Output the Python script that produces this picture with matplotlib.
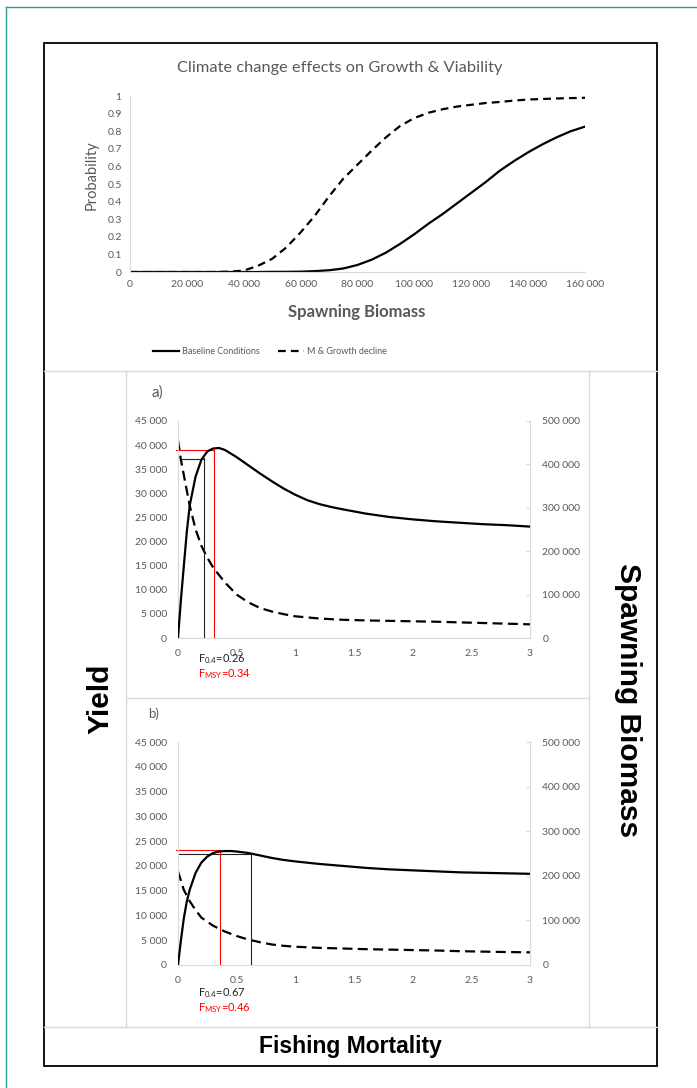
import matplotlib
matplotlib.use("Agg")
import matplotlib.pyplot as plt
from matplotlib.lines import Line2D

W, H = 697, 1088

# --- top chart: probability vs spawning biomass ---
biomass = [0, 5000, 10000, 15000, 20000, 25000, 30000, 35000, 40000, 45000, 50000,
           55000, 60000, 65000, 70000, 75000, 80000, 85000, 90000, 95000, 100000,
           105000, 110000, 115000, 120000, 125000, 130000, 135000, 140000, 145000,
           150000, 155000, 160000]
prob_base = [0, 0, 0, 0, 0, 0, 0, 0, 0, 0, 0.001,
             0.001, 0.002, 0.005, 0.01, 0.02, 0.04, 0.07, 0.11, 0.16, 0.215,
             0.275, 0.33, 0.39, 0.45, 0.51, 0.575, 0.63, 0.68, 0.725,
             0.765, 0.8, 0.826]
prob_decl = [0, 0, 0, 0, 0, 0, 0, 0.002, 0.008, 0.035, 0.075,
             0.14, 0.225, 0.32, 0.43, 0.53, 0.61, 0.69, 0.765, 0.83, 0.875,
             0.905, 0.925, 0.94, 0.95, 0.96, 0.966, 0.974, 0.98, 0.983,
             0.986, 0.988, 0.99]

# --- panel a ---
fa_y = [0, 0.025, 0.05, 0.075, 0.1, 0.15, 0.2, 0.25, 0.3, 0.35, 0.4, 0.5, 0.6, 0.7,
        0.8, 0.9, 1.0, 1.1, 1.2, 1.3, 1.4, 1.6, 1.8, 2.0, 2.2, 2.4, 2.6, 2.8, 3.0]
yield_a = [0, 8000, 15000, 22000, 27500, 33500, 37000, 38700, 39300, 39400, 39000,
           37500, 35800, 34100, 32500, 31000, 29700, 28600, 27800, 27200, 26700,
           25800, 25100, 24600, 24200, 23900, 23600, 23400, 23100]
fa_b = [0, 0.025, 0.05, 0.1, 0.15, 0.2, 0.25, 0.3, 0.4, 0.5, 0.6, 0.7, 0.8, 0.9, 1.0,
        1.2, 1.4, 1.6, 1.8, 2.0, 2.2, 2.4, 2.6, 2.8, 3.0]
ssb_a = [455000, 410000, 375000, 305000, 250000, 212000, 185000, 162000, 128000,
         100000, 82000, 69000, 61000, 55000, 50000, 45000, 42000, 40500, 39500,
         38500, 37500, 36000, 34500, 33000, 31500]
f04_a, fmsy_a = 0.22, 0.31
y04_a, ymsy_a = 37100, 38900

# --- panel b ---
fb_y = [0, 0.025, 0.05, 0.075, 0.1, 0.15, 0.2, 0.25, 0.3, 0.35, 0.4, 0.45, 0.5, 0.6,
        0.7, 0.8, 0.9, 1.0, 1.2, 1.4, 1.6, 1.8, 2.0, 2.2, 2.4, 2.6, 2.8, 3.0]
yield_b = [0, 5000, 9500, 12800, 15200, 18600, 20700, 21900, 22600, 22900, 23000,
           23000, 22900, 22600, 22100, 21600, 21200, 20900, 20400, 20000, 19600,
           19300, 19100, 18900, 18700, 18600, 18500, 18400]
fb_b = [0, 0.05, 0.1, 0.15, 0.2, 0.3, 0.4, 0.5, 0.6, 0.7, 0.8, 0.9, 1.0, 1.2, 1.4,
        1.6, 1.8, 2.0, 2.2, 2.4, 2.6, 2.8, 3.0]
ssb_b = [210000, 168000, 143000, 123000, 106000, 88000, 75000, 65000, 57000, 51000,
         46000, 43000, 41000, 38500, 37000, 35500, 34500, 33500, 32500, 31000, 30000,
         29000, 28400]
f04_b, fmsy_b = 0.62, 0.36
y04_b, ymsy_b = 22400, 23200

f_ticks = [0, 0.5, 1, 1.5, 2, 2.5, 3]
yield_ticks = list(range(0, 45001, 5000))
ssb_ticks = list(range(0, 500001, 100000))

GRAY_TXT = "#595959"
SPINE = "#d9d9d9"
plt.rcParams['font.family'] = ['Lato', 'DejaVu Sans']


def thou(v):
    return f"{int(v):,}".replace(",", " ")


def rect(l, t, r, b):
    return [l / W, 1 - b / H, (r - l) / W, (b - t) / H]


def fline(x0, y0, x1, y1, color, lw):
    fig.add_artist(Line2D([x0 / W, x1 / W], [1 - y0 / H, 1 - y1 / H],
                          transform=fig.transFigure, color=color, lw=lw))


def ftext(x, y, s, **kw):
    fig.text(x / W, 1 - y / H, s, **kw)


fig = plt.figure(figsize=(W / 100, H / 100), dpi=100)

# frames
fline(6, 7, 697, 7, "#2e9b8f", 1.0)
fline(6, 7, 6, 1088, "#2e9b8f", 1.0)
fline(44, 371, 657, 371, SPINE, 1.0)
fline(126, 371, 126, 1027, SPINE, 1.0)
fline(589, 371, 589, 1027, SPINE, 1.0)
fline(126, 698, 589, 698, SPINE, 1.0)
fline(44, 1027, 657, 1027, SPINE, 1.0)
fig.add_artist(plt.Rectangle((44 / W, 1 - 1066 / H), 613 / W, 1023 / H,
                             transform=fig.transFigure, fill=False,
                             ec="black", lw=1.3))

# top chart
ax = fig.add_axes(rect(130, 96, 585, 272))
ax.plot(biomass, prob_base, color="black", lw=1.6, label="Baseline Conditions")
ax.plot(biomass, prob_decl, color="black", lw=1.6, dashes=(3.5, 2.3),
        label="M & Growth decline")
ax.set_xlim(0, 160000)
ax.set_ylim(0, 1)
ax.set_xticks(range(0, 160001, 20000))
ax.set_xticklabels([thou(v) for v in range(0, 160001, 20000)])
ax.set_yticks([i / 10 for i in range(11)])
ax.set_yticklabels(["0"] + [f"{i / 10:g}" for i in range(1, 10)] + ["1"])
for s in ["top", "right"]:
    ax.spines[s].set_visible(False)
for s in ["left", "bottom"]:
    ax.spines[s].set_color(SPINE)
ax.tick_params(length=0, labelsize=7.5, labelcolor=GRAY_TXT, pad=6)
ax.patch.set_alpha(0)
ftext(340, 68, "Climate change effects on Growth & Viability", fontsize=11.8,
      color=GRAY_TXT, ha="center", va="center")
ftext(357, 312, "Spawning Biomass", fontsize=12, fontweight="bold",
      color=GRAY_TXT, ha="center", va="center")
ftext(92, 175, "Probability", fontsize=10.5, color=GRAY_TXT, rotation=90,
      ha="center", va="center")
fig.legend(loc="center", bbox_to_anchor=(270 / W, 1 - 352 / H), ncol=2,
           frameon=False, fontsize=6.5, labelcolor=GRAY_TXT, handlelength=2.9,
           handletextpad=0.3, columnspacing=2.0)


def panel(top, bottom, fy, yv, fs, sv, f04, y04, fmsy, ymsy, f04_lbl, fmsy_lbl,
          letter, lx, lsize, h_start, t_off):
    a = fig.add_axes(rect(178, top, 530, bottom))
    a.plot(fy, yv, color="black", lw=1.6, zorder=3)
    a.plot([h_start, f04], [y04, y04], color="#222222", lw=0.8)
    a.plot([f04, f04], [0, y04 + 300], color="#222222", lw=0.8)
    a.plot([-0.015, fmsy], [ymsy, ymsy], color="red", lw=0.8, clip_on=False)
    a.plot([fmsy, fmsy], [0, ymsy], color="red", lw=0.8)
    a.set_xlim(0, 3)
    a.set_ylim(0, 45000)
    a.set_xticks(f_ticks)
    a.set_xticklabels([f"{v:g}" for v in f_ticks])
    a.set_yticks(yield_ticks)
    a.set_yticklabels([thou(v) for v in yield_ticks])
    a.tick_params(length=0, labelsize=7.5, labelcolor=GRAY_TXT, pad=8)
    for s in ["top", "right"]:
        a.spines[s].set_visible(False)
    for s in ["left", "bottom"]:
        a.spines[s].set_color(SPINE)
    a.patch.set_alpha(0)
    b = a.twinx()
    b.plot(fs, sv, color="black", lw=1.6, dashes=(4.5, 2.4))
    b.set_ylim(0, 500000)
    b.set_yticks(ssb_ticks)
    b.set_yticklabels([thou(v) for v in ssb_ticks])
    b.tick_params(direction="in", length=3, color=SPINE, labelsize=7.5,
                  labelcolor=GRAY_TXT, pad=9)
    for s in ["top", "left", "bottom"]:
        b.spines[s].set_visible(False)
    b.spines["right"].set_color(SPINE)
    a.set_zorder(b.get_zorder() + 1)
    ftext(lx, top - 28, letter, fontsize=lsize, color=GRAY_TXT,
          va="center", ha="left")
    ftext(198, bottom + t_off, f04_lbl, fontsize=8, color="#222222",
          va="center", ha="left")
    ftext(198, bottom + t_off + 15, fmsy_lbl, fontsize=8, color="red",
          va="center", ha="left")


panel(421, 638, fa_y, yield_a, fa_b, ssb_a, f04_a, y04_a, fmsy_a, ymsy_a,
      r"F$\mathregular{_{0.4}}$=0.26", r"F$\mathregular{_{MSY}}$=0.34", "a)",
      151, 11, 0.03, 21)
panel(742, 965, fb_y, yield_b, fb_b, ssb_b, f04_b, y04_b, fmsy_b, ymsy_b,
      r"F$\mathregular{_{0.4}}$=0.67", r"F$\mathregular{_{MSY}}$=0.46", "b)",
      148, 9.5, 0.0, 28)

ftext(100, 699, "Yield", rotation=90, fontsize=21.5,
      fontweight="bold", family="Liberation Sans", ha="center", va="center")
ftext(628, 700, "Spawning Biomass", rotation=-90, fontsize=21.5,
      fontweight="bold", family="Liberation Sans", ha="center", va="center")
ftext(350, 1046, "Fishing Mortality", fontsize=16.5,
      fontweight="bold", family="Liberation Sans", ha="center", va="center")

fig.savefig("out.png", dpi=100)
